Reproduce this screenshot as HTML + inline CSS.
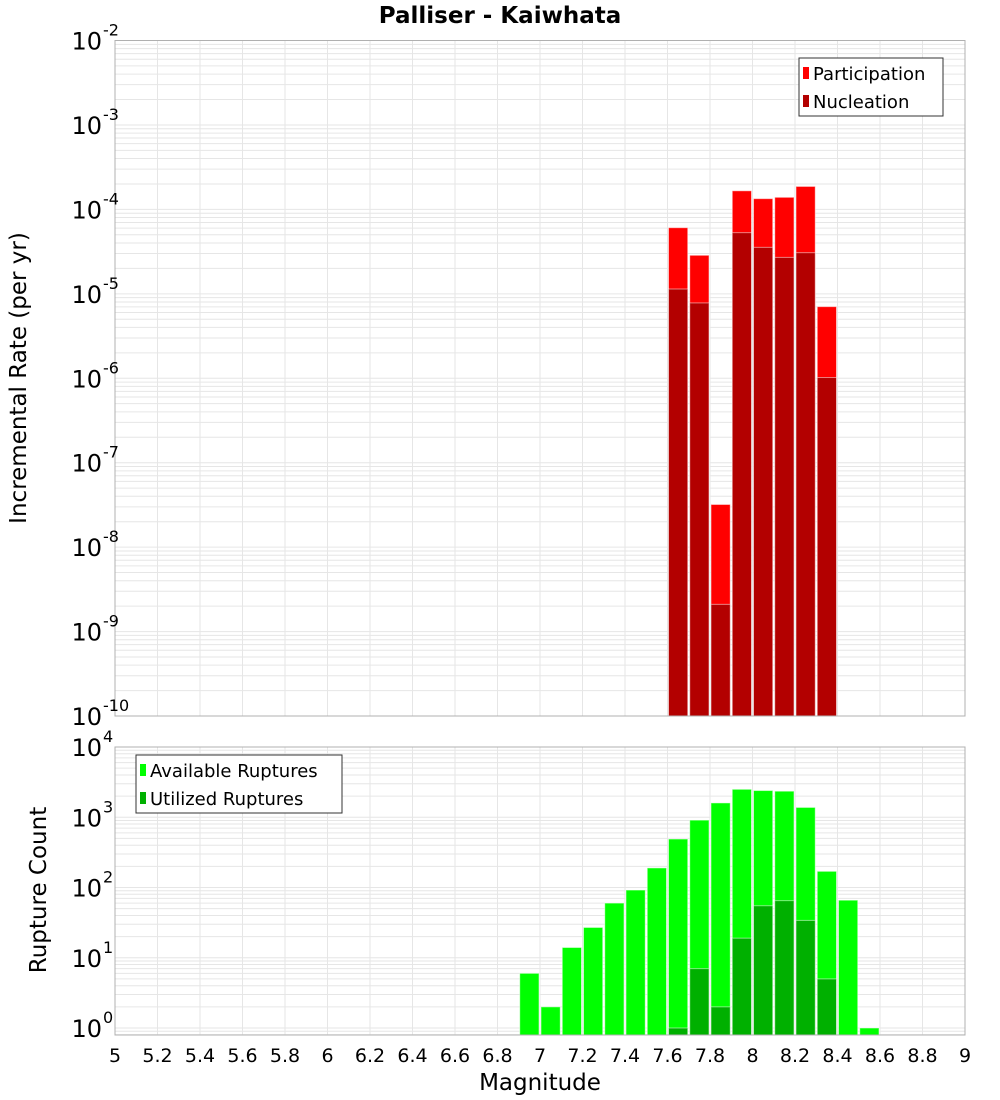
<!DOCTYPE html>
<html><head><meta charset="utf-8"><style>
body{margin:0;background:#fff}
svg{display:block;font-family:"DejaVu Sans","Liberation Sans",sans-serif}
</style></head><body>
<svg id="c" width="1000" height="1100" xmlns="http://www.w3.org/2000/svg">
<text x="500" y="23" text-anchor="middle" font-size="23" font-weight="bold">Palliser - Kaiwhata</text>
<g id="top"></g>
<g id="bot"></g>
<text transform="translate(26,378) rotate(-90)" text-anchor="middle" font-size="23">Incremental Rate (per yr)</text>
<text transform="translate(46,890) rotate(-90)" text-anchor="middle" font-size="23">Rupture Count</text>
<text x="540" y="1090" text-anchor="middle" font-size="23">Magnitude</text>
</svg>
<script>
const rateBins = [7.6,7.7,7.8,7.9,8.0,8.1,8.2,8.3];
const participation = [6.07e-5,2.86e-5,3.2e-8,1.66e-4,1.34e-4,1.39e-4,1.87e-4,7.05e-6];
const nucleation = [1.14e-5,7.8e-6,2.1e-9,5.3e-5,3.55e-5,2.7e-5,3.07e-5,1.02e-6];
const countBins = [6.9,7.0,7.1,7.2,7.3,7.4,7.5,7.6,7.7,7.8,7.9,8.0,8.1,8.2,8.3,8.4,8.5];
const available = [6,2,14,27,60,92,190,490,910,1600,2500,2400,2350,1380,170,66,1];
const utilized = [0,0,0,0,0,0,0,1,7,2,19,55,65,34,5,0,0];
const xTicks = [5,5.2,5.4,5.6,5.8,6,6.2,6.4,6.6,6.8,7,7.2,7.4,7.6,7.8,8,8.2,8.4,8.6,8.8,9];
const rateExp = [-2,-3,-4,-5,-6,-7,-8,-9,-10];
const countExp = [4,3,2,1,0];
const binWidth = 0.1;

const NS="http://www.w3.org/2000/svg";
const X0=115,X1=965;
const xs=m=>X0+(m-5)/4*(X1-X0);
function mk(p,tag,at){const e=document.createElementNS(NS,tag);for(const k in at)e.setAttribute(k,at[k]);p.appendChild(e);return e;}
function panel(g,top,bot,emax,emin){
  const ys=v=>top+(emax-Math.log10(v))/(emax-emin)*(bot-top);
  for(let e=emin;e<emax;e++)for(let k=1;k<10;k++){const y=ys(k*Math.pow(10,e));
    if(y<top-0.5||y>bot+0.5)continue;
    const l=mk(g,'line',{x1:X0,x2:X1,y1:y,y2:y,stroke:'#e6e6e6','stroke-width':1});
    
    }
  xTicks.forEach(t=>{const l=mk(g,'line',{x1:xs(t),x2:xs(t),y1:top,y2:bot,stroke:'#e6e6e6'});
    
    });
  return ys;
}
function ylabels(g,ys,exps){
  exps.forEach(e=>{const y=ys(Math.pow(10,e));
    const t=mk(g,'text',{x:102,y:y+9,'text-anchor':'end','font-size':24});t.textContent='10';
    
    
    const s=mk(g,'text',{x:103,y:y-5,'font-size':16});s.textContent=String(e);
    
    });
}
function bar(g,m,v,ys,bot,fill,name){
  if(v<=0)return;const x=xs(m)+1,w=xs(m+binWidth)-xs(m)-2,y=ys(v);
  const r=mk(g,'rect',{x:x,y:y,width:w,height:bot-y,fill:fill,stroke:'#ffffff','stroke-opacity':0.5,'stroke-width':1});
  
  
}
function legend(g,x,y,w,items){
  const b=mk(g,'rect',{x:x,y:y,width:w,height:58,fill:'#fff',stroke:'#333'});
  
  
  items.forEach((it,i)=>{const yy=y+15+i*28;
    const s=mk(g,'rect',{x:x+4,y:yy-6,width:6,height:12,fill:it[1]});
    
    
    const t=mk(g,'text',{x:x+14,y:yy+7,'font-size':18});t.textContent=it[0];
    
    });
}
// top
const gt=document.getElementById('top');
const T0=40.5,T1=716;
const ysT=panel(gt,T0,T1,-2,-10);
rateBins.forEach((m,i)=>bar(gt,m,participation[i],ysT,T1,'#ff0000','participation-bar'));
rateBins.forEach((m,i)=>bar(gt,m,nucleation[i],ysT,T1,'#b30000','nucleation-bar'));
mk(gt,'rect',{x:X0,y:T0,width:X1-X0,height:T1-T0,fill:'none',stroke:'#b0b0b0'});
ylabels(gt,ysT,rateExp);
legend(gt,799,58,144,[['Participation','#ff0000'],['Nucleation','#b30000']]);
// bottom
const gb=document.getElementById('bot');
const B0=747,B1=1035;
const ysB=v=>B0+(4-Math.log10(v))*70.25;
(function(){
  for(let e=-1;e<4;e++)for(let k=1;k<10;k++){const y=ysB(k*Math.pow(10,e));
    if(y<B0||y>B1)continue;
    const l=mk(gb,'line',{x1:X0,x2:X1,y1:y,y2:y,stroke:'#e6e6e6'});
    
    }
  xTicks.forEach(t=>{const l=mk(gb,'line',{x1:xs(t),x2:xs(t),y1:B0,y2:B1,stroke:'#e6e6e6'});
    
    });
})();
countBins.forEach((m,i)=>bar(gb,m,available[i],ysB,B1,'#00ff00','available-bar'));
countBins.forEach((m,i)=>bar(gb,m,utilized[i],ysB,B1,'#00b000','utilized-bar'));
mk(gb,'rect',{x:X0,y:B0,width:X1-X0,height:B1-B0,fill:'none',stroke:'#b0b0b0'});
ylabels(gb,ysB,countExp);
legend(gb,136,755,206,[['Available Ruptures','#00ff00'],['Utilized Ruptures','#00b000']]);
xTicks.forEach(t=>{const e=mk(gb,'text',{x:xs(t),y:1062,'text-anchor':'middle','font-size':19});
  e.textContent=String(t);
  
  });
</script>
</body></html>
